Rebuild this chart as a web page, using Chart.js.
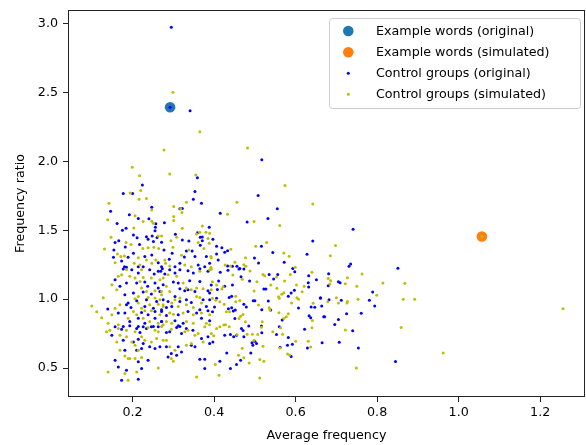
<!DOCTYPE html>
<html>
<head>
<meta charset="utf-8">
<script src="https://cdn.jsdelivr.net/npm/chart.js@4.4.1/dist/chart.umd.min.js"></script>
<style>
  html, body { margin: 0; padding: 0; background: #fff; }
  #wrap { width: 586px; height: 445px; }
</style>
</head>
<body>
<div id="wrap"><canvas id="chart" width="586" height="445"></canvas></div>
<script>
// Datos
const xTicks = [0.2, 0.4, 0.6, 0.8, 1.0, 1.2];
const yTicks = [0.5, 1.0, 1.5, 2.0, 2.5, 3.0];

const legendLabels = [
    'Example words (original)',
    'Example words (simulated)',
    'Control groups (original)',
    'Control groups (simulated)'
];

const exampleOrig = [[0.292, 2.393]];
const exampleSim = [[1.057, 1.455]];

const controlOrig = [
    [0.295, 2.973], [0.341, 2.367], [0.292, 2.393],
    [0.359, 1.881], [0.224, 1.828], [0.177, 1.767], [0.200, 1.767], [0.353, 1.782], [0.349, 1.726],
    [0.369, 1.697], [0.247, 1.668], [0.146, 1.639], [0.316, 1.656], [0.322, 1.658], [0.192, 1.612],
    [0.214, 1.585], [0.240, 1.583], [0.257, 1.547], [0.256, 1.523], [0.255, 1.496], [0.278, 1.554],
    [0.162, 1.549], [0.175, 1.501], [0.184, 1.515], [0.202, 1.466], [0.157, 1.411], [0.166, 1.425],
    [0.182, 1.379], [0.211, 1.445], [0.217, 1.396], [0.234, 1.454], [0.238, 1.435], [0.248, 1.459],
    [0.251, 1.418], [0.260, 1.447], [0.271, 1.413], [0.305, 1.472], [0.322, 1.430], [0.338, 1.423],
    [0.346, 1.350], [0.359, 1.483], [0.366, 1.450], [0.371, 1.452], [0.388, 1.522], [0.397, 1.435],
    [0.371, 1.425], [0.366, 1.391], [0.381, 1.309], [0.353, 1.309], [0.332, 1.350], [0.327, 1.306],
    [0.297, 1.333], [0.277, 1.357], [0.290, 1.290], [0.247, 1.321], [0.230, 1.309], [0.202, 1.333],
    [0.189, 1.304], [0.154, 1.357], [0.153, 1.304], [0.173, 1.277], [0.180, 1.236], [0.185, 1.231],
    [0.214, 1.236], [0.226, 1.236], [0.263, 1.265], [0.271, 1.236], [0.304, 1.236], [0.316, 1.260],
    [0.361, 1.248], [0.377, 1.236], [0.389, 1.260],
    [0.517, 2.012], [0.508, 1.753], [0.415, 1.624], [0.555, 1.656], [0.532, 1.585], [0.481, 1.561],
    [0.642, 1.423], [0.516, 1.384], [0.406, 1.384], [0.419, 1.374], [0.433, 1.352], [0.426, 1.341],
    [0.406, 1.328], [0.410, 1.285], [0.544, 1.338], [0.628, 1.326], [0.499, 1.299], [0.509, 1.262],
    [0.572, 1.268], [0.433, 1.241], [0.445, 1.239], [0.456, 1.239], [0.463, 1.222], [0.593, 1.222],
    [0.415, 1.195], [0.434, 1.210], [0.461, 1.219], [0.473, 1.219], [0.466, 1.163], [0.411, 1.132],
    [0.487, 1.132], [0.535, 1.180], [0.546, 1.146], [0.556, 1.180], [0.598, 1.199], [0.632, 1.170],
    [0.631, 1.119], [0.651, 1.141], [0.393, 1.103], [0.408, 1.071], [0.426, 1.093], [0.445, 1.103],
    [0.522, 1.074], [0.527, 1.074], [0.597, 1.064], [0.589, 1.044], [0.582, 1.022], [0.632, 1.088],
    [0.661, 1.006], [0.671, 0.872], [0.633, 0.879], [0.637, 0.865], [0.622, 0.782], [0.607, 0.936],
    [0.638, 0.944], [0.647, 0.942], [0.500, 0.988], [0.496, 0.988], [0.533, 0.986], [0.539, 0.921],
    [0.517, 0.923], [0.567, 0.848], [0.560, 0.800], [0.582, 0.722], [0.580, 0.666], [0.592, 0.673],
    [0.629, 0.646], [0.665, 0.683], [0.517, 0.756], [0.553, 0.744], [0.562, 0.651], [0.589, 0.584],
    [0.490, 0.610], [0.465, 0.556], [0.455, 0.525], [0.440, 0.496], [0.431, 0.610], [0.414, 0.549],
    [0.500, 0.695], [0.504, 0.678], [0.495, 0.666], [0.493, 0.683], [0.473, 0.727], [0.455, 0.739],
    [0.448, 0.727], [0.440, 0.744], [0.485, 0.805], [0.467, 0.788], [0.471, 0.773], [0.516, 0.805],
    [0.426, 0.739], [0.397, 0.690], [0.451, 0.860], [0.435, 0.930], [0.443, 0.937], [0.447, 0.915],
    [0.452, 0.921], [0.406, 1.006], [0.401, 0.944], [0.396, 0.908], [0.437, 1.013], [0.443, 1.022],
    [0.473, 0.963], [0.479, 0.944],
    [0.741, 1.508], [0.735, 1.256], [0.731, 1.239], [0.851, 1.224], [0.681, 1.185], [0.705, 1.127],
    [0.709, 1.120], [0.680, 1.098], [0.789, 1.052], [0.661, 1.010], [0.682, 0.996], [0.712, 0.993],
    [0.781, 0.993], [0.794, 0.950], [0.664, 0.950], [0.725, 0.894], [0.761, 0.897], [0.669, 0.872],
    [0.705, 0.853], [0.696, 0.817], [0.740, 0.770], [0.707, 0.688], [0.754, 0.646], [0.845, 0.547],
    [0.177, 1.219], [0.198, 1.214], [0.214, 1.190], [0.242, 1.214], [0.253, 1.183], [0.263, 1.202],
    [0.273, 1.221], [0.157, 1.141], [0.185, 1.117], [0.169, 1.093], [0.210, 1.117], [0.230, 1.124],
    [0.237, 1.093], [0.255, 1.117], [0.263, 1.081], [0.275, 1.105], [0.181, 1.032], [0.202, 1.044],
    [0.226, 1.052], [0.246, 1.037], [0.267, 1.056], [0.210, 0.989], [0.234, 0.996], [0.259, 0.984],
    [0.275, 0.996], [0.189, 0.972], [0.139, 0.928], [0.185, 0.959], [0.196, 0.940], [0.230, 0.947],
    [0.251, 0.935], [0.271, 0.923], [0.165, 0.899], [0.181, 0.899], [0.222, 0.904], [0.238, 0.887],
    [0.255, 0.911], [0.193, 0.838], [0.214, 0.862], [0.230, 0.826], [0.255, 0.862], [0.271, 0.838],
    [0.177, 0.802], [0.214, 0.802], [0.251, 0.802],
    [0.269, 1.202], [0.279, 1.183], [0.291, 1.214], [0.304, 1.190], [0.316, 1.214], [0.336, 1.207],
    [0.349, 1.190], [0.365, 1.221], [0.385, 1.202], [0.300, 1.124], [0.312, 1.117], [0.340, 1.134],
    [0.365, 1.129], [0.316, 1.076], [0.328, 1.061], [0.336, 1.069], [0.353, 1.056], [0.385, 1.061],
    [0.389, 1.044], [0.304, 1.020], [0.287, 0.984], [0.316, 0.984], [0.332, 0.996], [0.344, 0.976],
    [0.373, 0.996], [0.389, 0.996], [0.283, 0.940], [0.296, 0.947], [0.381, 0.947], [0.365, 0.923],
    [0.271, 0.911], [0.283, 0.882], [0.312, 0.887], [0.336, 0.911], [0.357, 0.899], [0.385, 0.916],
    [0.271, 0.838], [0.304, 0.843], [0.324, 0.826], [0.369, 0.862], [0.389, 0.843], [0.308, 0.794],
    [0.316, 0.802],
    [0.149, 0.739], [0.157, 0.799], [0.173, 0.782], [0.193, 0.807], [0.210, 0.787], [0.218, 0.758],
    [0.226, 0.799], [0.234, 0.787], [0.246, 0.799], [0.263, 0.799], [0.283, 0.758], [0.291, 0.763],
    [0.312, 0.807], [0.320, 0.751], [0.332, 0.787], [0.348, 0.775], [0.369, 0.714], [0.385, 0.727],
    [0.389, 0.678], [0.177, 0.702], [0.202, 0.690], [0.214, 0.710], [0.226, 0.678], [0.242, 0.654],
    [0.255, 0.642], [0.267, 0.654], [0.283, 0.654], [0.312, 0.654], [0.320, 0.617], [0.344, 0.666],
    [0.353, 0.654], [0.181, 0.630], [0.210, 0.630], [0.222, 0.642], [0.287, 0.581], [0.295, 0.605],
    [0.308, 0.593], [0.157, 0.557], [0.214, 0.545], [0.238, 0.557], [0.365, 0.564], [0.377, 0.564],
    [0.165, 0.508], [0.185, 0.484], [0.222, 0.496], [0.377, 0.496], [0.173, 0.411], [0.214, 0.418]
];

const controlSim = [
    [0.299, 2.502], [0.365, 2.216], [0.277, 2.083], [0.482, 2.097],
    [0.199, 1.957], [0.217, 1.896], [0.291, 1.908], [0.355, 1.901], [0.220, 1.789], [0.194, 1.770],
    [0.216, 1.726], [0.234, 1.731], [0.142, 1.697], [0.332, 1.704], [0.247, 1.648], [0.301, 1.673],
    [0.318, 1.654], [0.321, 1.629], [0.301, 1.600], [0.301, 1.571], [0.206, 1.605], [0.139, 1.576],
    [0.226, 1.563], [0.247, 1.566], [0.251, 1.552], [0.203, 1.517], [0.147, 1.450], [0.131, 1.364],
    [0.184, 1.411], [0.196, 1.396], [0.225, 1.367], [0.238, 1.374], [0.263, 1.459], [0.271, 1.459],
    [0.252, 1.377], [0.264, 1.367], [0.308, 1.450], [0.294, 1.425], [0.299, 1.377], [0.322, 1.515],
    [0.338, 1.357], [0.357, 1.474], [0.365, 1.486], [0.371, 1.532], [0.380, 1.486], [0.389, 1.479],
    [0.385, 1.440], [0.388, 1.406], [0.361, 1.411], [0.375, 1.367], [0.392, 1.309], [0.320, 1.319],
    [0.279, 1.285], [0.257, 1.285], [0.234, 1.285], [0.214, 1.301], [0.180, 1.314], [0.163, 1.328],
    [0.171, 1.309], [0.157, 1.265], [0.204, 1.260], [0.218, 1.248], [0.247, 1.260], [0.281, 1.260],
    [0.291, 1.241], [0.328, 1.248], [0.344, 1.236],
    [0.574, 1.825], [0.456, 1.704], [0.642, 1.690], [0.433, 1.617], [0.498, 1.563], [0.561, 1.534],
    [0.529, 1.411], [0.502, 1.384], [0.441, 1.362], [0.393, 1.301], [0.571, 1.336], [0.584, 1.312],
    [0.477, 1.301], [0.451, 1.268], [0.427, 1.248], [0.440, 1.241], [0.473, 1.250], [0.478, 1.239],
    [0.599, 1.231], [0.392, 1.231],
    [0.393, 1.217], [0.446, 1.175], [0.488, 1.204], [0.469, 1.144], [0.505, 1.127], [0.520, 1.180],
    [0.524, 1.170], [0.553, 1.161], [0.587, 1.180], [0.573, 1.132], [0.640, 1.195], [0.680, 1.150],
    [0.396, 1.127], [0.406, 1.103], [0.393, 1.068], [0.422, 1.091], [0.419, 1.074], [0.498, 1.059],
    [0.539, 1.103], [0.554, 1.079], [0.571, 1.047], [0.566, 1.035], [0.558, 1.018], [0.560, 1.006],
    [0.607, 0.999], [0.603, 1.010], [0.616, 1.054], [0.621, 1.093], [0.602, 1.103], [0.643, 0.970],
    [0.679, 0.981], [0.641, 0.846], [0.640, 0.792], [0.590, 0.972], [0.509, 0.957], [0.535, 0.938],
    [0.537, 0.921], [0.559, 0.901], [0.571, 0.860], [0.577, 0.872], [0.582, 0.894], [0.568, 0.746],
    [0.600, 0.695], [0.637, 0.653], [0.631, 0.695], [0.563, 0.792], [0.518, 0.836], [0.516, 0.797],
    [0.544, 0.763], [0.520, 0.659], [0.562, 0.646], [0.580, 0.603], [0.585, 0.595], [0.522, 0.549],
    [0.512, 0.562], [0.512, 0.428], [0.486, 0.537], [0.473, 0.574], [0.460, 0.593], [0.469, 0.644],
    [0.403, 0.525], [0.412, 0.448], [0.498, 0.702], [0.494, 0.746], [0.507, 0.744], [0.481, 0.746],
    [0.456, 0.744], [0.477, 0.836], [0.393, 0.751], [0.399, 0.734], [0.406, 0.788], [0.414, 0.799],
    [0.424, 0.812], [0.461, 0.860], [0.438, 0.908], [0.430, 0.908], [0.425, 0.963], [0.414, 0.981],
    [0.404, 0.993], [0.396, 1.006], [0.453, 1.022], [0.453, 0.981], [0.463, 0.991], [0.471, 0.889],
    [0.465, 0.877], [0.428, 0.814], [0.437, 0.799],
    [0.698, 1.389], [0.685, 1.316], [0.763, 1.183], [0.727, 1.156], [0.686, 1.134], [0.684, 1.110],
    [0.722, 1.112], [0.750, 1.093], [0.814, 1.117], [0.868, 1.115], [0.799, 1.028], [0.700, 1.010],
    [0.705, 0.972], [0.727, 0.984], [0.726, 0.972], [0.753, 0.999], [0.864, 0.999], [0.892, 0.999],
    [0.722, 0.777], [0.859, 0.795], [0.962, 0.610], [0.749, 0.501], [1.256, 0.930], [1.057, 1.455],
    [0.128, 1.010], [0.112, 0.908], [0.124, 0.865], [0.100, 0.950],
    [0.185, 1.214], [0.222, 1.214], [0.165, 1.166], [0.173, 1.178], [0.193, 1.166], [0.206, 1.154],
    [0.218, 1.129], [0.226, 1.158], [0.246, 1.154], [0.267, 1.141], [0.149, 1.105], [0.161, 1.069],
    [0.222, 1.081], [0.234, 1.056], [0.255, 1.061], [0.271, 1.032], [0.214, 1.020], [0.238, 1.013],
    [0.255, 1.008], [0.267, 0.996], [0.206, 1.003], [0.157, 0.935], [0.169, 0.959], [0.214, 0.972],
    [0.222, 0.935], [0.242, 0.959], [0.263, 0.964], [0.275, 0.947], [0.149, 0.887], [0.202, 0.911],
    [0.210, 0.887], [0.230, 0.916], [0.246, 0.916], [0.267, 0.887], [0.140, 0.826], [0.165, 0.814],
    [0.189, 0.862], [0.226, 0.862], [0.242, 0.838], [0.263, 0.826], [0.275, 0.814], [0.238, 0.794],
    [0.275, 1.154], [0.287, 1.178], [0.308, 1.166], [0.324, 1.117], [0.365, 1.202], [0.389, 1.214],
    [0.283, 1.093], [0.291, 1.056], [0.271, 1.056], [0.332, 1.081], [0.344, 1.069], [0.357, 1.081],
    [0.373, 1.076], [0.304, 0.996], [0.296, 0.972], [0.316, 1.008], [0.357, 1.020], [0.365, 1.013],
    [0.275, 0.959], [0.312, 0.947], [0.332, 0.959], [0.349, 0.940], [0.369, 0.972], [0.291, 0.899],
    [0.300, 0.891], [0.324, 0.899], [0.349, 0.887], [0.369, 0.899], [0.389, 0.887], [0.283, 0.838],
    [0.296, 0.826], [0.332, 0.838], [0.349, 0.826], [0.381, 0.826], [0.389, 0.814], [0.271, 0.802],
    [0.136, 0.763], [0.144, 0.775], [0.165, 0.787], [0.169, 0.739], [0.185, 0.727], [0.185, 0.775],
    [0.206, 0.763], [0.222, 0.727], [0.230, 0.702], [0.255, 0.775], [0.263, 0.763], [0.275, 0.702],
    [0.283, 0.702], [0.295, 0.782], [0.328, 0.763], [0.336, 0.775], [0.353, 0.739], [0.361, 0.751],
    [0.377, 0.799], [0.161, 0.690], [0.198, 0.690], [0.206, 0.666], [0.214, 0.630], [0.246, 0.690],
    [0.259, 0.714], [0.291, 0.654], [0.304, 0.630], [0.332, 0.666], [0.344, 0.678], [0.373, 0.690],
    [0.169, 0.630], [0.193, 0.569], [0.206, 0.569], [0.222, 0.576], [0.295, 0.569], [0.300, 0.549],
    [0.181, 0.588], [0.189, 0.569], [0.140, 0.472], [0.181, 0.460], [0.210, 0.472], [0.263, 0.501],
    [0.357, 0.435], [0.189, 0.411]
];

const FONT = 'DejaVu Sans';
const FONT_SIZE = 12.7;

function toPoints(list) {
    return list.map(([x, y]) => ({ x: x, y: y }));
}

// Marco completo alrededor del area del grafico
const framePlugin = {
    id: 'frame',
    afterDatasetsDraw(chart) {
        const { ctx, chartArea: a } = chart;
        ctx.save();
        ctx.strokeStyle = '#222';
        ctx.lineWidth = 1;
        ctx.strokeRect(a.left + 0.5, a.top + 0.5, a.right - a.left - 1, a.bottom - a.top - 1);
        ctx.restore();
    }
};

// Leyenda dentro del grafico, arriba a la derecha
const legendPlugin = {
    id: 'innerLegend',
    afterDraw(chart) {
        const { ctx } = chart;
        const boxX = 329, boxY = 18, boxW = 251, boxH = 90;
        ctx.save();
        ctx.beginPath();
        ctx.roundRect(boxX + 0.5, boxY + 0.5, boxW, boxH, 3);
        ctx.fillStyle = 'rgba(255,255,255,0.8)';
        ctx.fill();
        ctx.strokeStyle = '#cccccc';
        ctx.lineWidth = 1;
        ctx.stroke();

        const rows = [31, 52.3, 73.3, 94.3];
        chart.data.datasets.forEach((ds, i) => {
            ctx.beginPath();
            ctx.arc(348.3, rows[i], ds.pointRadius, 0, Math.PI * 2);
            ctx.fillStyle = ds.backgroundColor;
            ctx.fill();
            ctx.fillStyle = '#000';
            ctx.font = FONT_SIZE + 'px "' + FONT + '"';
            ctx.textBaseline = 'middle';
            ctx.textAlign = 'left';
            ctx.fillText(legendLabels[i], 376, rows[i] + 0.5);
        });
        ctx.restore();
    }
};

const dotStyle = { pointBorderWidth: 0, pointHoverRadius: 0, showLine: false };

new Chart(document.getElementById('chart').getContext('2d'), {
    type: 'scatter',
    data: {
        datasets: [
            Object.assign({ label: legendLabels[0], data: toPoints(exampleOrig), backgroundColor: '#1f77b4', pointRadius: 5.3, order: 4 }, dotStyle),
            Object.assign({ label: legendLabels[1], data: toPoints(exampleSim), backgroundColor: '#ff7f0e', pointRadius: 5.3, order: 3 }, dotStyle),
            Object.assign({ label: legendLabels[2], data: toPoints(controlOrig), backgroundColor: '#0000ff', pointRadius: 1.5, order: 2 }, dotStyle),
            Object.assign({ label: legendLabels[3], data: toPoints(controlSim), backgroundColor: '#bfbf00', pointRadius: 1.5, order: 1 }, dotStyle)
        ]
    },
    options: {
        responsive: false,
        animation: false,
        devicePixelRatio: 1,
        layout: { autoPadding: false, padding: { top: 10, right: 1, left: 0, bottom: 0 } },
        plugins: {
            legend: { display: false },
            tooltip: { enabled: false }
        },
        scales: {
            x: {
                type: 'linear',
                min: 0.0415,
                max: 1.31,
                afterBuildTicks: (scale) => { scale.ticks = xTicks.map(v => ({ value: v })); },
                afterFit: (scale) => {
                    scale.height = 48;
                    scale.paddingLeft = 0;
                    scale.paddingRight = 0;
                },
                ticks: {
                    color: '#000',
                    font: { family: FONT, size: FONT_SIZE },
                    padding: 3,
                    maxRotation: 0,
                    callback: (v) => Number(v).toFixed(1)
                },
                grid: { drawOnChartArea: false, drawTicks: true, tickLength: 5, color: '#222' },
                border: { display: false },
                title: {
                    display: true,
                    text: 'Average frequency',
                    color: '#000',
                    font: { family: FONT, size: FONT_SIZE },
                    padding: { top: 0, bottom: 2 }
                }
            },
            y: {
                type: 'linear',
                min: 0.29,
                max: 3.099,
                afterBuildTicks: (scale) => { scale.ticks = yTicks.map(v => ({ value: v })); },
                afterFit: (scale) => {
                    scale.width = 68;
                    scale.paddingTop = 0;
                    scale.paddingBottom = 0;
                },
                ticks: {
                    color: '#000',
                    font: { family: FONT, size: FONT_SIZE },
                    padding: 5,
                    callback: (v) => Number(v).toFixed(1)
                },
                grid: { drawOnChartArea: false, drawTicks: true, tickLength: 5, color: '#222' },
                border: { display: false },
                title: {
                    display: true,
                    text: 'Frequency ratio',
                    color: '#000',
                    font: { family: FONT, size: FONT_SIZE },
                    padding: { top: 13, bottom: 0 }
                }
            }
        }
    },
    plugins: [framePlugin, legendPlugin]
});
</script>
</body>
</html>
